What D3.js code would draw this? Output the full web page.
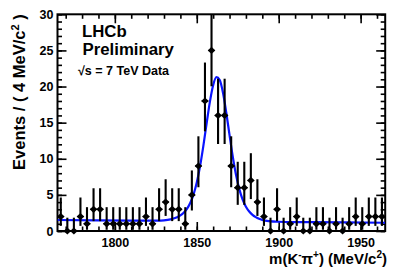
<!DOCTYPE html>
<html><head><meta charset="utf-8">
<script src="https://cdn.jsdelivr.net/npm/d3@7"></script>
<style>
body{margin:0;background:#fff}
svg{display:block}
text{font-family:"Liberation Sans",Arial,Helvetica,sans-serif;font-weight:bold;fill:#000}
</style>
</head><body>
<svg id="c" width="407" height="276"></svg>
<script>
// ---- data ----
const binCenters = [1767,1771,1775,1779,1783,1787,1791,1795,1799,1803,
                    1807,1811,1815,1819,1823,1827,1831,1835,1839,1843,
                    1847,1851,1855,1859,1863,1867,1871,1875,1879,1883,
                    1887,1891,1895,1899,1903,1907,1911,1915,1919,1923,
                    1927,1931,1935,1939,1943,1947,1951,1955,1959,1963];
const counts = [2,0,0,2,1,3,3,1,1,1,
                1,1,1,2,1,3,4,3,3,1,
                5,9,18,25,16,16,9,6,6,7,
                4,2,0,3,0,1,2,0,0,1,
                1,0,1,0,1,2,1,2,2,2];
const fitMass  = [1765,1790,1810,1826,1830,1834,1838,1840,1842,1844,1846,1848,1850,1852,1854,1856,1858,1860,1862,
                  1864,1866,1868,1870,1872,1874,1876,1878,1880,1882,1884,1886,1888,1890,1894,1900,1910,1920,1940,1965];
const fitValue = [1.52,1.47,1.44,1.43,1.47,1.60,1.89,2.15,2.53,3.07,3.88,5.04,6.71,8.96,11.75,14.88,17.88,20.19,21.29,
                  20.90,19.14,16.40,13.27,10.26,7.71,5.76,4.34,3.36,2.70,2.24,1.92,1.69,1.54,1.37,1.28,1.24,1.225,1.19,1.14];
const xTickLabels = [1800,1850,1900,1950];
const yTickLabels = [0,5,10,15,20,25,30];
const binWidth = 4;

// ---- layout ----
const L=57.5, R=385.2, T=14.3, B=231;
const svg = d3.select("#c");
const x = d3.scaleLinear().domain([1765,1965]).range([L,R]);
const y = d3.scaleLinear().domain([0,30]).range([B,T]);

// Poisson 68.27% central interval (as RooFit draws for counts)
function pcdf(n,mu){let t=Math.exp(-mu),s=t;for(let k=1;k<=n;k++){t*=mu/k;s+=t;}return s;}
function solve(f,target,lo,hi){for(let i=0;i<80;i++){const m=(lo+hi)/2;if(f(m)>target)lo=m;else hi=m;}return (lo+hi)/2;}
const alpha=(1-0.682689)/2;
function pint(n){
  const up=solve(mu=>pcdf(n,mu),alpha,0,n+50);
  const lo=n===0?0:solve(mu=>pcdf(n-1,mu),1-alpha,0,n+50);
  return [lo,up];
}

svg.append("defs").append("clipPath").attr("id","clip")
  .append("rect").attr("x",L).attr("y",T).attr("width",R-L).attr("height",B-T);

const yMajor = yTickLabels, yMinor = d3.range(0,31,1);
const xMajor = xTickLabels, xMinor = d3.range(1770,1961,10);

svg.append("g").attr("transform",`translate(${L},0)`)
  .call(d3.axisLeft(y).tickValues(yMajor).tickSize(-9).tickPadding(4).tickFormat(d3.format("d")));
svg.append("g").attr("transform",`translate(${L},0)`)
  .call(d3.axisLeft(y).tickValues(yMinor).tickSize(-4.5).tickFormat(""));
svg.append("g").attr("transform",`translate(${R},0)`)
  .call(d3.axisRight(y).tickValues(yMajor).tickSize(-9).tickFormat(""));
svg.append("g").attr("transform",`translate(${R},0)`)
  .call(d3.axisRight(y).tickValues(yMinor).tickSize(-4.5).tickFormat(""));
svg.append("g").attr("transform",`translate(0,${B})`)
  .call(d3.axisBottom(x).tickValues(xMajor).tickSize(-9).tickPadding(7.5).tickFormat(d3.format("d")));
svg.append("g").attr("transform",`translate(0,${B})`)
  .call(d3.axisBottom(x).tickValues(xMinor).tickSize(-4.5).tickFormat(""));
svg.append("g").attr("transform",`translate(0,${T})`)
  .call(d3.axisTop(x).tickValues(xMajor).tickSize(-9).tickFormat(""));
svg.append("g").attr("transform",`translate(0,${T})`)
  .call(d3.axisTop(x).tickValues(xMinor).tickSize(-4.5).tickFormat(""));
svg.selectAll(".domain").remove();
svg.selectAll(".tick line").attr("stroke","#000").attr("stroke-width",1.6);
svg.selectAll(".tick text").style("font-size","12.5px").style("font-family",'"Liberation Sans",Arial,sans-serif').style("font-weight","bold");

// frame
svg.append("rect").attr("x",L).attr("y",T).attr("width",R-L).attr("height",B-T)
  .attr("fill","none").attr("stroke","#000").attr("stroke-width",2);

// fit curve
svg.append("path").datum(fitMass.map((m,i)=>[m,fitValue[i]]))
  .attr("clip-path","url(#clip)")
  .attr("fill","none").attr("stroke","#0a14ff").attr("stroke-width",2.2)
  .attr("d",d3.line().x(d=>x(d[0])).y(d=>y(d[1])).curve(d3.curveMonotoneX));

// data points with error bars
const pts = svg.append("g");
binCenters.forEach((c,i)=>{
  const n=counts[i], [lo,hi]=pint(n);
  pts.append("line").attr("x1",x(c)).attr("x2",x(c))
    .attr("y1",y(lo)).attr("y2",y(Math.min(hi,30)))
    .attr("stroke","#000").attr("stroke-width",2.1);
  pts.append("line").attr("x1",x(c-binWidth/2)).attr("x2",x(c+binWidth/2))
    .attr("y1",y(n)).attr("y2",y(n)).attr("stroke","#000").attr("stroke-width",1.2);
  const cx=x(c), cy=y(n), w=3.8, h=3.6;
  pts.append("path").attr("d",`M${cx-w},${cy}L${cx},${cy-h}L${cx+w},${cy}L${cx},${cy+h}Z`).attr("fill","#000");
});

// axis titles
const yt = svg.append("text").attr("transform",`translate(24.5,${T}) rotate(-90)`)
  .attr("text-anchor","end").style("font-size","16.5px");
yt.append("tspan").text("Events / ( 4 MeV/c");
yt.append("tspan").attr("dy",-6).style("font-size","11px").text("2");
yt.append("tspan").attr("dy",6).text(" )");

const xt = svg.append("text").attr("x",387).attr("y",264).attr("text-anchor","end").style("font-size","15px");
xt.append("tspan").text("m(K");
xt.append("tspan").attr("dy",-6).style("font-size","10px").text("-");
xt.append("tspan").attr("dy",6).text("π");
xt.append("tspan").attr("dy",-6).style("font-size","10px").text("+");
xt.append("tspan").attr("dy",6).text(") (MeV/c");
xt.append("tspan").attr("dy",-6).style("font-size","10px").text("2");
xt.append("tspan").attr("dy",6).text(")");

// labels
svg.append("text").attr("x",82).attr("y",36.5).style("font-size","16.8px").text("LHCb");
svg.append("text").attr("x",82.5).attr("y",55).style("font-size","16.8px").text("Preliminary");
svg.append("text").attr("x",78).attr("y",75).style("font-size","12.5px").text("√s = 7 TeV Data");
</script>
</body></html>
